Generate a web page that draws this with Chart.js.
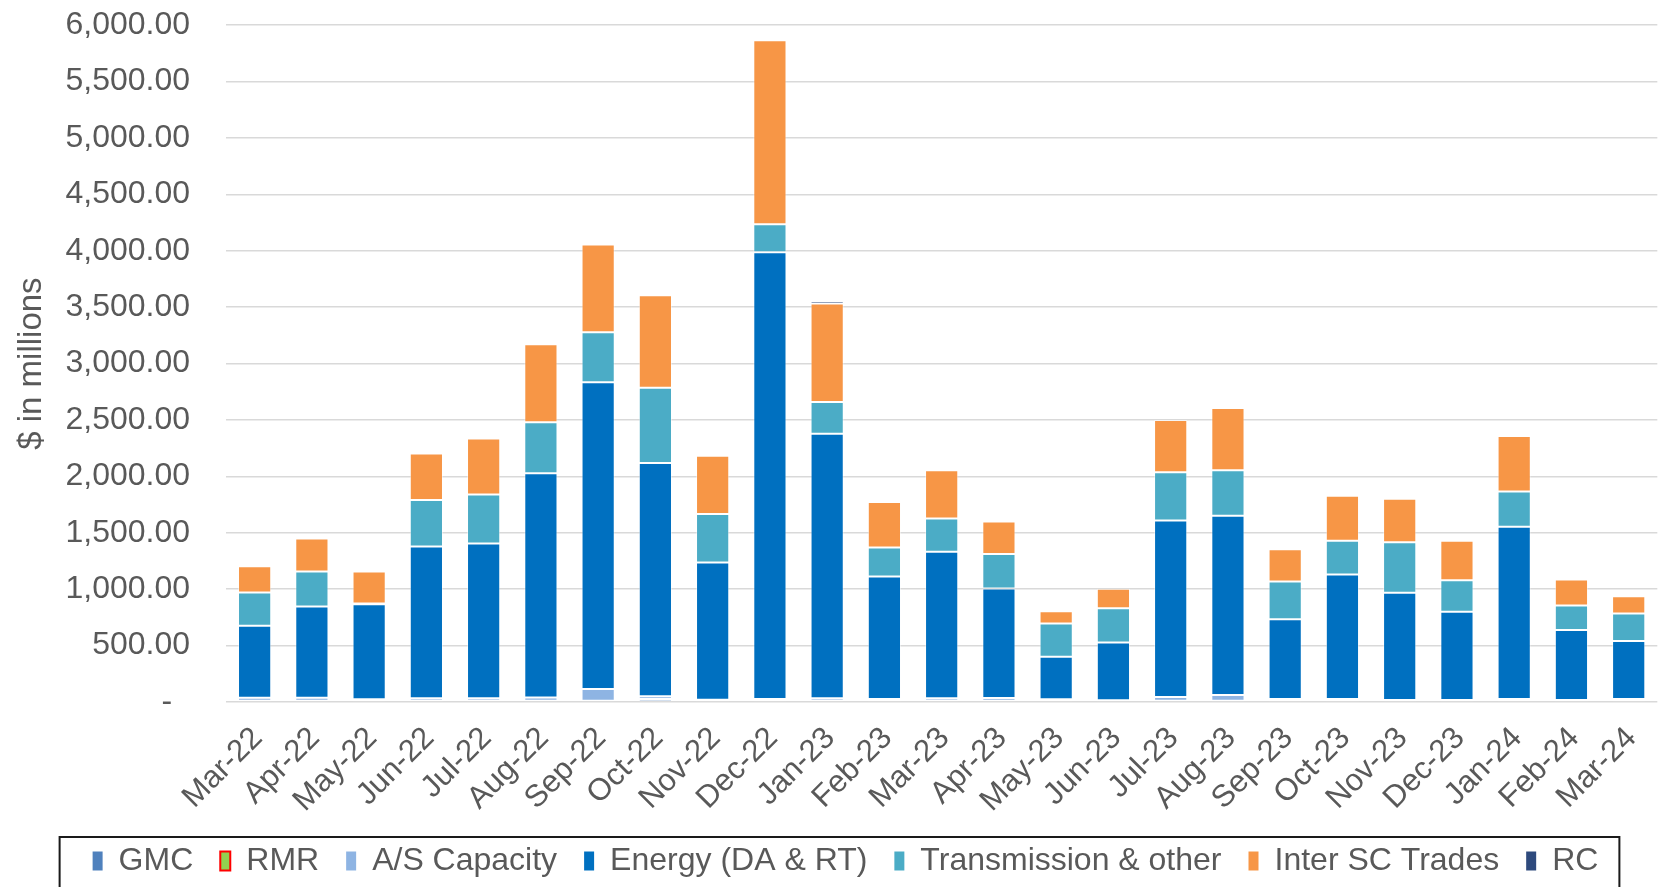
<!DOCTYPE html>
<html>
<head>
<meta charset="utf-8">
<script src="https://cdn.jsdelivr.net/npm/chart.js@4.4.1/dist/chart.umd.min.js"></script>
<style>
  html, body { margin: 0; padding: 0; background: #ffffff; }
  #wrap { width: 1673px; height: 887px; position: relative; }
</style>
</head>
<body>
<div id="wrap"><canvas id="c"></canvas></div>
<script>
const categories = ['Mar-22','Apr-22','May-22','Jun-22','Jul-22','Aug-22','Sep-22','Oct-22','Nov-22','Dec-22','Jan-23','Feb-23','Mar-23','Apr-23','May-23','Jun-23','Jul-23','Aug-23','Sep-23','Oct-23','Nov-23','Dec-23','Jan-24','Feb-24','Mar-24'];

const gmc    = [10, 10, 8, 10, 10, 10, 12, 27, 8, 10, 10, 10, 10, 10, 8, 6, 12, 12, 8, 8, 8, 8, 10, 8, 8];
const rmr    = [0, 0, 0, 0, 0, 0, 0, 0, 0, 0, 0, 0, 0, 0, 0, 0, 0, 0, 0, 0, 0, 0, 0, 0, 0];
const asCapacity = [28, 28, 16, 23, 23, 31, 103, 23, 13, 17, 23, 17, 23, 26, 16, 9, 32, 50, 19, 19, 10, 10, 17, 10, 19];
const energy = [637, 808, 843, 1346, 1373, 1986, 2720, 2069, 1216, 3961, 2346, 1086, 1299, 970, 378, 512, 1566, 1589, 707, 1103, 950, 781, 1526, 621, 514];
const transmission = [296, 311, 6, 411, 434, 453, 444, 668, 429, 248, 281, 257, 295, 305, 293, 304, 426, 403, 334, 299, 449, 281, 314, 216, 243];
const interSC = [233, 293, 284, 412, 495, 692, 777, 819, 518, 1631, 872, 402, 427, 290, 110, 172, 464, 553, 287, 400, 385, 349, 491, 231, 154];
const rc     = [0, 0, 0, 0, 0, 0, 0, 0, 0, 0, 24, 0, 0, 0, 0, 0, 0, 0, 0, 0, 0, 0, 18, 0, 0];

const yMin = 0, yMax = 6000, yStep = 500;
const yTitle = '$ in millions';

const seriesNames = ['GMC', 'RMR', 'A/S Capacity', 'Energy (DA & RT)', 'Transmission & other', 'Inter SC Trades', 'RC'];
const seriesData = [gmc, rmr, asCapacity, energy, transmission, interSC, rc];
const seriesColors = ['#4F81BD', '#92D050', '#8EB4E3', '#0070C0', '#4BACC6', '#F79646', '#2E4A7D'];

const FONT = '"Liberation Sans", Arial, sans-serif';
const TEXT = '#595959';

const legendBorder = {
  id: 'legendBorder',
  afterDraw(chart) {
    const lg = chart.legend;
    if (!lg || !lg.legendHitBoxes || !lg.legendHitBoxes.length) return;
    const hb = lg.legendHitBoxes;
    const first = hb[0], last = hb[hb.length - 1];
    const left = first.left - 33;
    const right = last.left + last.width + 21;
    const midY = first.top + first.height / 2;
    const top = midY - 24;
    const ctx = chart.ctx;
    ctx.save();
    ctx.strokeStyle = '#1a1a1a';
    ctx.lineWidth = 2;
    ctx.strokeRect(left, top, right - left, chart.height - top + 10);
    ctx.restore();
  }
};

new Chart(document.getElementById('c'), {
  type: 'bar',
  data: {
    labels: categories,
    datasets: seriesNames.map((name, i) => ({
      label: name,
      data: seriesData[i],
      backgroundColor: seriesColors[i],
      borderColor: 'rgba(255,255,255,0.45)',
      borderWidth: 1,
      borderSkipped: false,
      categoryPercentage: 1.0,
      barPercentage: 0.58
    }))
  },
  options: {
    responsive: true,
    maintainAspectRatio: false,
    animation: false,
    devicePixelRatio: 1,
    layout: { padding: { top: 25, right: 0, bottom: 0, left: 18 } },
    plugins: {
      tooltip: { enabled: false },
      legend: {
        position: 'bottom',
        labels: {
          font: { family: FONT, size: 32 },
          color: TEXT,
          boxWidth: 10,
          boxHeight: 19,
          padding: 27,
          generateLabels(chart) {
            const items = Chart.defaults.plugins.legend.labels.generateLabels(chart);
            items.forEach((it, i) => {
              if (i === 1) { it.strokeStyle = '#FF0000'; it.lineWidth = 2; }
              else { it.lineWidth = 0; }
            });
            return items;
          }
        }
      }
    },
    scales: {
      x: {
        stacked: true,
        grid: { display: false, drawTicks: false },
        border: { display: false },
        ticks: {
          font: { family: FONT, size: 31 },
          color: TEXT,
          minRotation: 45,
          maxRotation: 45,
          autoSkip: false,
          padding: 18,
          labelOffset: 3
        },
        afterFit(scale) { scale.height = 116; }
      },
      y: {
        stacked: true,
        min: yMin,
        max: yMax,
        grid: { color: '#d9d9d9', lineWidth: 1.5, drawTicks: true, tickLength: 30, tickColor: 'rgba(0,0,0,0)' },
        border: { display: false },
        ticks: {
          stepSize: yStep,
          font: { family: FONT, size: 32 },
          color: TEXT,
          padding: 6,
          callback(v) {
            if (v === 0) return '-  ';
            return Number(v).toLocaleString('en-US', { minimumFractionDigits: 2, maximumFractionDigits: 2 });
          }
        },
        title: {
          display: true,
          text: yTitle,
          font: { family: FONT, size: 33 },
          color: TEXT,
          padding: { top: -6, bottom: 0 }
        },
        afterFit(scale) { scale.width = 208; }
      }
    }
  },
  plugins: [legendBorder]
});
</script>
</body>
</html>
